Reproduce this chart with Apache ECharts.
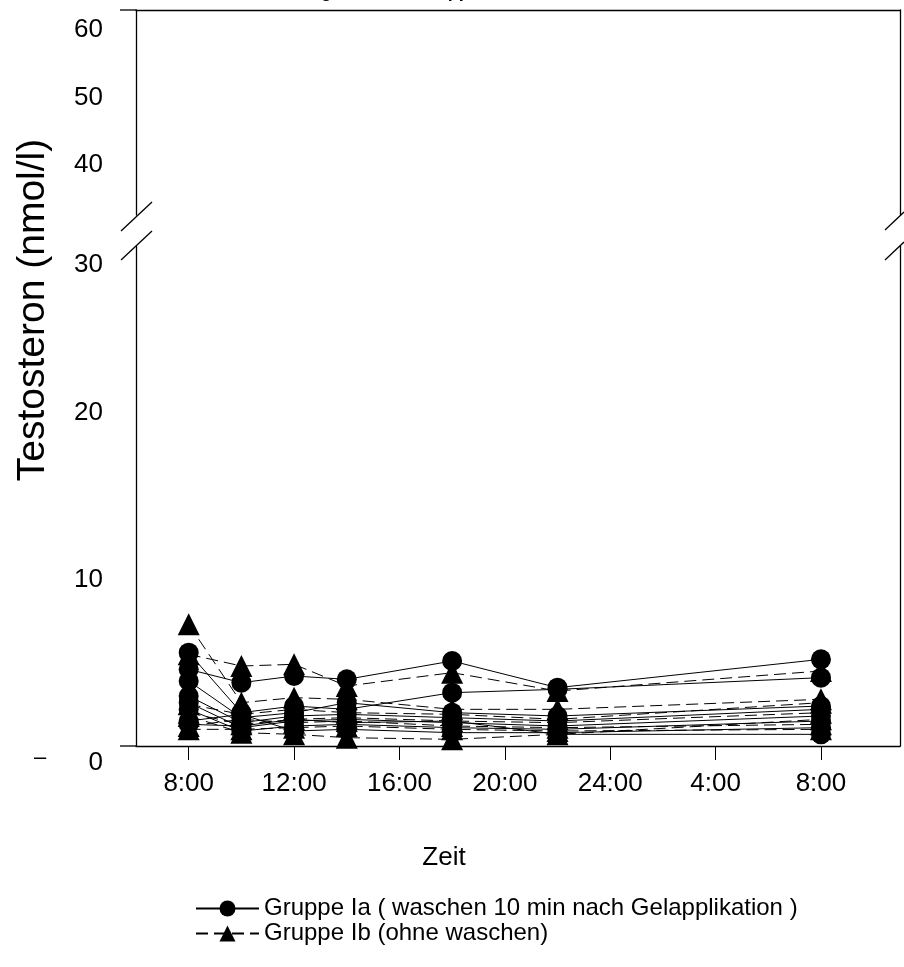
<!DOCTYPE html>
<html>
<head>
<meta charset="utf-8">
<script src="https://cdn.jsdelivr.net/npm/echarts@6/dist/echarts.min.js"></script>
<style>
  html, body { margin: 0; padding: 0; background: #fff; }
  #Chart { width: 904px; height: 967px; }
</style>
</head>
<body>
<div id="Chart"></div>
<script>
var FONT = 'Liberation Sans, Arial, sans-serif';

// measurement times, hours after 8:00
var times = [0, 2, 4, 6, 10, 14, 24];
var tickHours = [0, 4, 8, 12, 16, 20, 24];
var tickLabels = ['8:00', '12:00', '16:00', '20:00', '24:00', '4:00', '8:00'];
var upperTicks = [40, 50, 60];
var lowerTicks = [10, 20];

var nameIa = 'Gruppe Ia ( waschen 10 min nach Gelapplikation )';
var nameIb = 'Gruppe Ib (ohne waschen)';

// Gruppe Ia, one row per subject (nmol/l)
var ia1 = [4.6, 3.8, 4.2, 4.0, 5.1, 3.5, 5.2];
var ia2 = [5.6, 2.0, 2.4, 2.2, 3.2, 3.4, 4.1];
var ia3 = [3.9, 1.7, 2.0, 2.6, 2.0, 1.8, 2.4];
var ia4 = [3.0, 1.4, 1.8, 1.9, 1.7, 1.5, 2.2];
var ia5 = [2.6, 1.1, 1.5, 1.6, 1.4, 1.2, 1.8];
var ia6 = [2.2, 0.9, 1.2, 1.3, 1.1, 1.0, 1.5];
var ia7 = [1.5, 1.9, 0.9, 1.0, 0.8, 0.8, 1.1];
var ia8 = [1.3, 1.2, 1.6, 1.4, 1.5, 0.7, 0.7];

// Gruppe Ib
var ib1 = [5.5, 4.8, 4.9, 3.6, 4.4, 3.3, 4.5];
var ib2 = [7.3, 2.6, 2.9, 2.8, 2.2, 2.2, 2.8];
var ib3 = [2.5, 1.9, 2.2, 2.0, 1.9, 1.6, 2.6];
var ib4 = [2.0, 1.3, 1.6, 1.7, 1.5, 1.4, 2.0];
var ib5 = [1.8, 0.8, 0.7, 0.5, 0.4, 0.7, 1.6];
var ib6 = [1.2, 1.6, 1.4, 1.5, 1.2, 1.1, 1.3];
var ib7 = [1.0, 1.0, 1.1, 1.2, 1.0, 0.9, 1.0];

var groupIa = [ia1, ia2, ia3, ia4, ia5, ia6, ia7, ia8];
var groupIb = [ib1, ib2, ib3, ib4, ib5, ib6, ib7];

function pairs(vals) {
    return vals.map(function (v, i) { return [times[i], v]; });
}

var series = [];
groupIa.forEach(function (vals) {
    series.push({
        name: nameIa, type: 'line', xAxisIndex: 1, yAxisIndex: 2,
        data: pairs(vals),
        symbol: 'circle', symbolSize: 20,
        itemStyle: { color: '#000' },
        lineStyle: { color: '#000', width: 1, type: 'solid' }
    });
});
groupIb.forEach(function (vals) {
    series.push({
        name: nameIb, type: 'line', xAxisIndex: 1, yAxisIndex: 2,
        data: pairs(vals),
        symbol: 'triangle', symbolSize: 22,
        itemStyle: { color: '#000' },
        lineStyle: { color: '#000', width: 1, type: [12, 6] }
    });
});

var blackLine = { show: true, onZero: false, lineStyle: { color: '#000', width: 1.3 } };

var Chart = echarts.init(document.getElementById('Chart'));

var option = {
    animation: false,
    backgroundColor: '#fff',
    textStyle: { fontFamily: FONT },
    grid: [
        { left: 136, right: 4, top: 10, height: 205 },
        { left: 136, right: 4, top: 246, height: 500 }
    ],
    xAxis: [
        {
            gridIndex: 0, type: 'value', min: -2, max: 27, position: 'top',
            axisLine: blackLine, axisTick: { show: false },
            axisLabel: { show: false }, splitLine: { show: false }
        },
        {
            gridIndex: 1, type: 'value', min: -2, max: 27, position: 'bottom',
            axisLine: blackLine,
            axisTick: { show: true, inside: false, length: 14, customValues: tickHours,
                        lineStyle: { color: '#000', width: 1 } },
            axisLabel: {
                customValues: tickHours, margin: 25,
                color: '#000', fontSize: 26, fontFamily: FONT,
                formatter: function (v) { return tickLabels[tickHours.indexOf(v)]; }
            },
            splitLine: { show: false }
        }
    ],
    yAxis: [
        {
            gridIndex: 0, type: 'value', min: 32.6, max: 63, position: 'left',
            axisLine: blackLine, axisTick: { show: false },
            axisLabel: { customValues: upperTicks, margin: 33, color: '#000',
                         fontSize: 26, fontFamily: FONT },
            splitLine: { show: false }
        },
        {
            gridIndex: 0, type: 'value', min: 32.6, max: 63, position: 'right',
            axisLine: blackLine, axisTick: { show: false },
            axisLabel: { show: false }, splitLine: { show: false }
        },
        {
            gridIndex: 1, type: 'value', min: 0, max: 30, position: 'left',
            axisLine: blackLine, axisTick: { show: false },
            axisLabel: { customValues: lowerTicks, margin: 33, color: '#000',
                         fontSize: 26, fontFamily: FONT },
            splitLine: { show: false }
        },
        {
            gridIndex: 1, type: 'value', min: 0, max: 30, position: 'right',
            axisLine: blackLine, axisTick: { show: false },
            axisLabel: { show: false }, splitLine: { show: false }
        }
    ],
    legend: {
        data: [nameIa, nameIb],
        orient: 'vertical',
        left: 195, top: 896, padding: 0,
        itemWidth: 63, itemHeight: 20, itemGap: 0,
        textStyle: { color: '#000', fontSize: 24, lineHeight: 25, fontFamily: FONT }
    },
    graphic: [
        // cut-off title
        { type: 'text', left: 301, top: -17,
          style: { text: 'Tagesverlauf Gruppe I', font: 'bold 18px ' + FONT, fill: '#000' } },
        // axis titles
        { type: 'text', x: 33, y: 310, rotation: Math.PI / 2,
          style: { text: 'Testosteron (nmol/l)', font: '39px ' + FONT, fill: '#000',
                   align: 'center', verticalAlign: 'middle' } },
        { type: 'text', x: 444, y: 858,
          style: { text: 'Zeit', font: '26px ' + FONT, fill: '#000',
                   align: 'center', verticalAlign: 'middle' } },
        // offset labels of the lower panel
        { type: 'text', x: 103, y: 265,
          style: { text: '30', font: '26px ' + FONT, fill: '#000', align: 'right', verticalAlign: 'middle' } },
        { type: 'text', x: 103, y: 763,
          style: { text: '0', font: '26px ' + FONT, fill: '#000', align: 'right', verticalAlign: 'middle' } },
        { type: 'text', x: 40, y: 758,
          style: { text: '\u2013', font: '22px ' + FONT, fill: '#000', align: 'center', verticalAlign: 'middle' } },
        // frame extensions
        { type: 'line', shape: { x1: 120, y1: 10, x2: 136, y2: 10 }, style: { stroke: '#000', lineWidth: 1.3 } },
        { type: 'line', shape: { x1: 120, y1: 746, x2: 136, y2: 746 }, style: { stroke: '#000', lineWidth: 1.3 } },
        // axis break marks
        { type: 'line', shape: { x1: 121, y1: 231, x2: 152, y2: 202 }, style: { stroke: '#000', lineWidth: 1.3 } },
        { type: 'line', shape: { x1: 121, y1: 260, x2: 152, y2: 231 }, style: { stroke: '#000', lineWidth: 1.3 } },
        { type: 'line', shape: { x1: 885, y1: 230, x2: 904, y2: 212 }, style: { stroke: '#000', lineWidth: 1.3 } },
        { type: 'line', shape: { x1: 885, y1: 260, x2: 904, y2: 242 }, style: { stroke: '#000', lineWidth: 1.3 } }
    ],
    series: series
};

Chart.setOption(option);

window.addEventListener('resize', function () {
    Chart.resize();
});
</script>
</body>
</html>
